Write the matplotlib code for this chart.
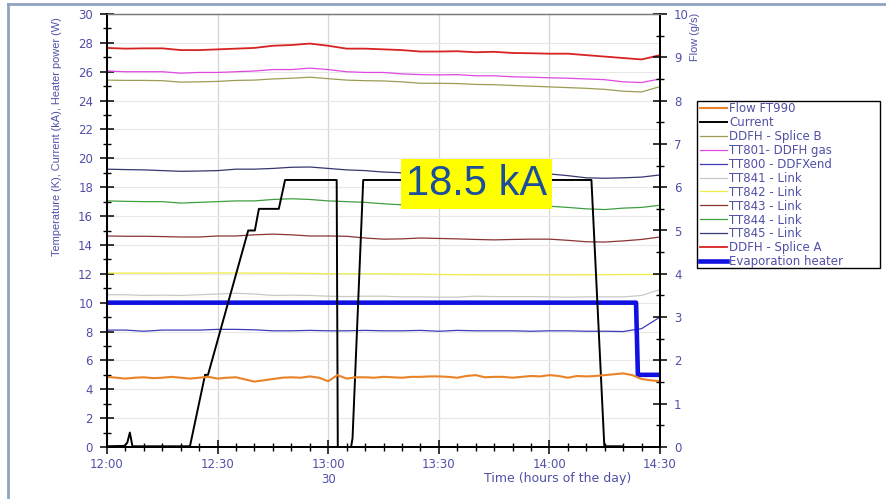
import numpy as np
import matplotlib
matplotlib.use("Agg")
import matplotlib.pyplot as plt
from matplotlib.lines import Line2D
from matplotlib.patches import Rectangle
from matplotlib.ticker import MultipleLocator, FixedLocator

plt.rcParams["font.family"] = ["DejaVu Sans"]

# temperatures sampled every 5 min from 12:00 (minutes)
t5 = np.arange(0, 151, 5)
splice_a = [27.65, 27.6, 27.62, 27.62, 27.5, 27.5, 27.55, 27.6, 27.65, 27.8, 27.85,
            27.95, 27.8, 27.6, 27.6, 27.55, 27.5, 27.4, 27.4, 27.42, 27.35, 27.38,
            27.3, 27.28, 27.25, 27.25, 27.15, 27.05, 26.95, 26.85, 27.15]
tt801 = [26.05, 26.0, 26.0, 26.0, 25.9, 25.95, 25.95, 26.0, 26.05, 26.15, 26.15,
         26.25, 26.15, 26.0, 25.95, 25.95, 25.85, 25.8, 25.78, 25.8, 25.72, 25.72,
         25.65, 25.62, 25.58, 25.55, 25.5, 25.45, 25.3, 25.25, 25.5]
splice_b = [25.42, 25.4, 25.4, 25.38, 25.28, 25.3, 25.33, 25.4, 25.42, 25.5, 25.55,
            25.62, 25.52, 25.42, 25.38, 25.36, 25.3, 25.2, 25.2, 25.18, 25.12, 25.1,
            25.05, 25.0, 24.95, 24.9, 24.85, 24.78, 24.65, 24.6, 24.97]
tt845 = [19.25, 19.22, 19.2, 19.15, 19.1, 19.12, 19.15, 19.25, 19.25, 19.3, 19.38,
         19.4, 19.3, 19.2, 19.15, 19.05, 19.0, 18.98, 18.95, 18.95, 18.95, 18.95,
         18.95, 18.95, 18.92, 18.8, 18.65, 18.62, 18.65, 18.7, 18.85]
tt844 = [17.05, 17.02, 17.0, 17.0, 16.9, 16.95, 17.0, 17.05, 17.05, 17.15, 17.2,
         17.15, 17.05, 17.0, 16.95, 16.85, 16.78, 16.78, 16.75, 16.75, 16.72, 16.72,
         16.7, 16.7, 16.68, 16.6, 16.5, 16.45, 16.55, 16.6, 16.75]
tt843 = [14.62, 14.6, 14.6, 14.58, 14.55, 14.55, 14.62, 14.62, 14.7, 14.75, 14.7,
         14.62, 14.62, 14.6, 14.48, 14.4, 14.42, 14.48, 14.45, 14.42, 14.38, 14.35,
         14.38, 14.4, 14.4, 14.32, 14.22, 14.2, 14.28, 14.38, 14.55]
tt842 = [12.05, 12.05, 12.05, 12.04, 12.05, 12.05, 12.06, 12.06, 12.05, 12.05, 12.04,
         12.03, 12.0, 12.0, 12.0, 12.0, 11.98, 11.98, 11.95, 11.94, 11.93, 11.93,
         11.93, 11.93, 11.93, 11.93, 11.93, 11.94, 11.95, 11.95, 11.95]
tt841 = [10.55, 10.55, 10.5, 10.52, 10.5, 10.55, 10.6, 10.65, 10.6, 10.5, 10.52,
         10.5, 10.45, 10.42, 10.45, 10.45, 10.4, 10.4, 10.38, 10.38, 10.45, 10.42,
         10.42, 10.42, 10.4, 10.38, 10.4, 10.4, 10.4, 10.5, 10.9]
tt800 = [8.1, 8.1, 8.02, 8.1, 8.1, 8.1, 8.15, 8.15, 8.12, 8.05, 8.05, 8.08, 8.05,
         8.05, 8.08, 8.05, 8.05, 8.08, 8.02, 8.08, 8.05, 8.05, 8.05, 8.02, 8.05,
         8.05, 8.02, 8.02, 8.0, 8.2, 9.0]

# flow sampled every 2.5 min (g/s)
t_flow = np.arange(0, 150.1, 2.5)
flow = [1.62, 1.60, 1.58, 1.60, 1.61, 1.59, 1.60, 1.62, 1.60, 1.58, 1.60, 1.62,
        1.58, 1.60, 1.61, 1.56, 1.51, 1.54, 1.57, 1.60, 1.61, 1.60, 1.63, 1.60,
        1.52, 1.66, 1.58, 1.61, 1.61, 1.60, 1.62, 1.61, 1.60, 1.62, 1.62, 1.63,
        1.63, 1.62, 1.60, 1.64, 1.66, 1.61, 1.62, 1.62, 1.60, 1.62, 1.64, 1.63,
        1.66, 1.64, 1.60, 1.64, 1.63, 1.64, 1.66, 1.68, 1.70, 1.66, 1.57, 1.54, 1.52]

# current (kA)
t_cur = [0, 4.8, 5.5, 6.2, 6.9, 22.5, 26.6, 27.4, 38.3, 40.1, 41.2, 46.6, 48.3,
         62.3, 62.6, 66.2, 66.6, 69.5, 131.4, 134.9, 140]
current = [0.05, 0.08, 0.3, 1.0, 0.05, 0.05, 5.0, 5.0, 15.0, 15.0, 16.5, 16.5, 18.5,
           18.5, 0.0, 0.0, 0.6, 18.5, 18.5, 0.05, 0.05]

# evaporation heater (W)
t_heat = [0, 143.5, 144.0, 150]
heater = [10, 10, 5, 5]

xtick_labels = ["12:00", "12:30", "13:00\n30", "13:30", "14:00", "14:30"]

lab_col = "#5050a8"

fig = plt.figure(figsize=(8.86, 4.99), dpi=100)
ax = fig.add_axes([107 / 886, 1 - 447 / 499, 553 / 886, 433 / 499])
ax2 = ax.twinx()

handles = {}
handles["TT841 - Link"], = ax.plot(t5, tt841, color="#c8c8c8", lw=0.9)
handles["TT842 - Link"], = ax.plot(t5, tt842, color="#eeee44", lw=0.9)
handles["TT843 - Link"], = ax.plot(t5, tt843, color="#8b3434", lw=0.9)
handles["TT844 - Link"], = ax.plot(t5, tt844, color="#3f9f3f", lw=0.9)
handles["TT845 - Link"], = ax.plot(t5, tt845, color="#363670", lw=0.9)
handles["TT800 - DDFXend"], = ax.plot(t5, tt800, color="#3c3cb8", lw=0.9)
handles["DDFH - Splice B"], = ax.plot(t5, splice_b, color="#9c9c55", lw=0.9)
handles["TT801- DDFH gas"], = ax.plot(t5, tt801, color="#e048e0", lw=0.9)
handles["DDFH - Splice A"], = ax.plot(t5, splice_a, color="#d82222", lw=1.3)
handles["Evaporation heater"], = ax.plot(t_heat, heater, color="#1010e0", lw=3.3,
                                         solid_joinstyle="round")
handles["Current"], = ax.plot(t_cur, current, color="black", lw=1.4)
handles["Flow FT990"], = ax2.plot(t_flow, flow, color="#ea8228", lw=1.5)

ax.set_xlim(0, 150)
ax.set_ylim(0, 30)
ax2.set_ylim(0, 10)

ax.xaxis.set_major_locator(FixedLocator([0, 30, 60, 90, 120, 150]))
ax.set_xticklabels(xtick_labels)
ax.xaxis.set_minor_locator(MultipleLocator(5))
ax.yaxis.set_major_locator(MultipleLocator(2))
ax.yaxis.set_minor_locator(MultipleLocator(1))
ax2.yaxis.set_major_locator(MultipleLocator(1))
ax2.yaxis.set_minor_locator(MultipleLocator(0.5))

ax.grid(True, axis="x", color="#d6d6d6", lw=0.9)
ax.grid(True, axis="y", color="#e8e8e8", lw=0.8)
ax.set_axisbelow(True)

for a in (ax, ax2):
    a.tick_params(which="major", direction="inout", length=10, width=1.1,
                  labelsize=8.5, labelcolor=lab_col, color="black")
    a.tick_params(which="minor", direction="inout", length=6, width=1.0,
                  color="black")
    for s in ("left", "right", "bottom"):
        a.spines[s].set_linewidth(1.4)
        a.spines[s].set_color("black")
    a.spines["top"].set_color("#7a7a7a")
    a.spines["top"].set_linewidth(0.9)
ax.tick_params(axis="x", which="major", pad=3)
ax.tick_params(axis="y", which="major", pad=5)
ax2.tick_params(axis="y", which="major", pad=5)

ax.text(-0.09, 0.718, "Temperature (K), Current (kA), Heater power (W)",
        transform=ax.transAxes, rotation=90, ha="center", va="center",
        fontsize=7.9, color=lab_col, family="Liberation Sans")
ax.text(1.063, 0.947, "Flow (g/s)", transform=ax.transAxes, rotation=90,
        ha="center", va="center", fontsize=7.9, color=lab_col,
        family="Liberation Sans")
ax.text(0.815, -0.0716, "Time (hours of the day)", transform=ax.transAxes,
        ha="center", va="center", fontsize=9, color=lab_col)

ax.text(100.2, 18.2, "18.5 kA", fontsize=30, color="#1b4f9b", ha="center",
        va="center", zorder=10, family="Liberation Sans",
        bbox=dict(boxstyle="square,pad=0.12", facecolor="#ffff00", edgecolor="none"))

order = ["Flow FT990", "Current", "DDFH - Splice B", "TT801- DDFH gas",
         "TT800 - DDFXend", "TT841 - Link", "TT842 - Link", "TT843 - Link",
         "TT844 - Link", "TT845 - Link", "DDFH - Splice A", "Evaporation heater"]
leg = fig.legend([handles[k] for k in order], order, loc="upper left",
                 bbox_to_anchor=(697 / 886, 1 - 99 / 499), fontsize=8.5,
                 frameon=False, labelspacing=0.08, handlelength=2.3,
                 handletextpad=0.15, borderpad=0.25, borderaxespad=0)
for txt in leg.get_texts():
    txt.set_color(lab_col)
# legend frame is wider than its text in the original
fig.add_artist(Rectangle((697 / 886, 1 - 268 / 499), 183 / 886, 167 / 499,
                         transform=fig.transFigure, facecolor="white",
                         edgecolor="black", lw=1.0, zorder=-1))

# slide frame
fig.add_artist(Line2D([8 / 886, 1], [1 - 4 / 499, 1 - 4 / 499],
                      color="#8fa2c0", lw=2, transform=fig.transFigure))
fig.add_artist(Line2D([8 / 886, 8 / 886], [0, 1 - 4 / 499],
                      color="#8fa2c0", lw=2, transform=fig.transFigure))

fig.savefig("out.png", dpi=100)
